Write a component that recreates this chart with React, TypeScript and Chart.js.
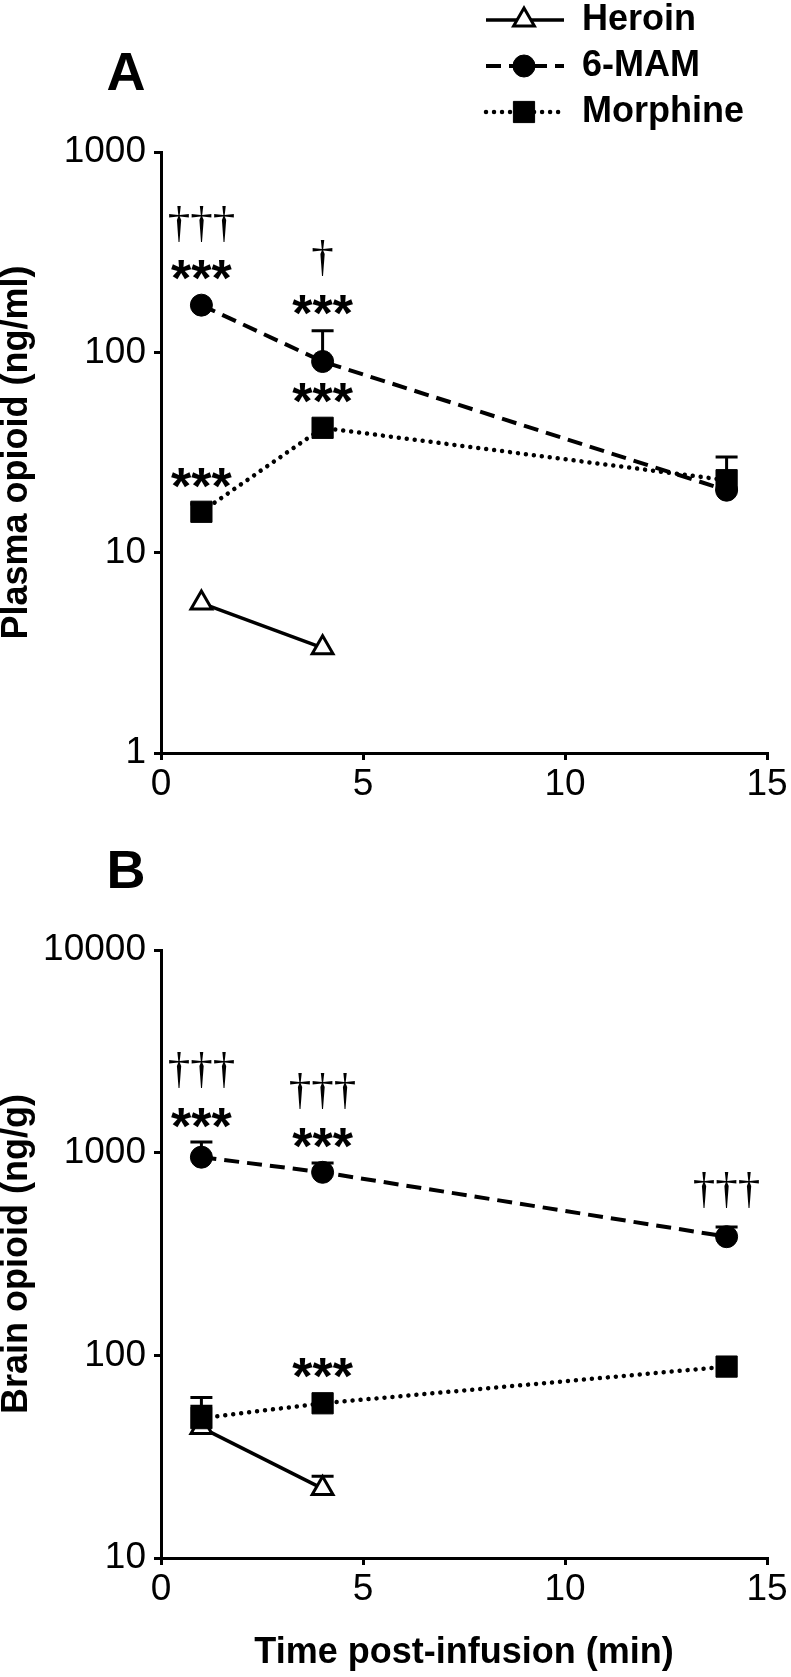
import React, { useEffect, useRef } from "react";
import { Chart, registerables } from "chart.js";

Chart.register(...registerables);

const FONT = "'Liberation Sans', Arial, Helvetica, sans-serif";
const SERIF = "'Liberation Serif', 'Times New Roman', serif";

// ---------- data ----------
const timeAll = [1, 4, 14];
const timeHeroin = [1, 4];
const xTicks = [0, 5, 10, 15];
const yTicksPlasma = [1, 10, 100, 1000];
const yTicksBrain = [10, 100, 1000, 10000];
const seriesNames = ["Heroin", "6-MAM", "Morphine"];

const plasmaHeroin = [5.6, 3.35];
const plasmaHeroinSem = [0, 0];
const plasma6MAM = [172, 90, 20.5];
const plasma6MAMSem = [0, 38, 0];
const plasmaMorphine = [16, 42, 23];
const plasmaMorphineSem = [1.5, 0, 7];

const brainHeroin = [44, 22];
const brainHeroinSem = [12, 3.3];
const brain6MAM = [950, 800, 385];
const brain6MAMSem = [180, 90, 45];
const brainMorphine = [49, 58, 88];
const brainMorphineSem = [13, 0, 0];

// significance marks: [x, y value]
const plasmaStars = [[1, 258], [4, 172], [4, 63], [1, 23.6]];
const plasmaDaggers: [number, number, string][] = [[1, 437, "†††"], [4, 296, "†"]];
const brainStars = [[1, 1483], [4, 1183], [4, 86.7]];
const brainDaggers: [number, number, string][] = [[1, 2559, "†††"], [4, 2014, "†††"], [14, 655, "†††"]];

// ---------- styles ----------
const styles = [
  { borderWidth: 3.5, borderDash: [] as number[], cap: "butt", pointStyle: "triangle", pointRadius: 12, fill: "#ffffff", pbw: 3, order: 2 },
  { borderWidth: 4, borderDash: [15, 8], cap: "butt", pointStyle: "circle", pointRadius: 11, fill: "#000000", pbw: 1, order: 1 },
  { borderWidth: 4.5, borderDash: [0.01, 8], cap: "round", pointStyle: "rect", pointRadius: 15, fill: "#000000", pbw: 1, order: 0 },
];

function makeDataset(i: number, xs: number[], ys: number[]) {
  const s = styles[i];
  return {
    label: seriesNames[i],
    data: xs.map((x, k) => ({ x, y: ys[k] })),
    borderColor: "#000",
    backgroundColor: s.fill,
    borderWidth: s.borderWidth,
    borderDash: s.borderDash,
    borderCapStyle: s.cap,
    pointStyle: s.pointStyle,
    pointRadius: s.pointRadius,
    pointHoverRadius: s.pointRadius,
    pointBackgroundColor: s.fill,
    pointBorderColor: "#000",
    pointBorderWidth: s.pbw,
    tension: 0,
    fill: false,
    order: s.order,
  };
}

function drawCentered(ctx: CanvasRenderingContext2D, text: string, x: number, y: number, font: string) {
  ctx.font = font;
  const m = ctx.measureText(text);
  ctx.textAlign = "center";
  ctx.textBaseline = "alphabetic";
  const base = y + (m.actualBoundingBoxAscent - m.actualBoundingBoxDescent) / 2;
  ctx.fillText(text, x, base);
}

function drawMarker(ctx: CanvasRenderingContext2D, i: number, x: number, y: number) {
  const s = styles[i];
  const r = s.pointRadius;
  ctx.save();
  ctx.setLineDash([]);
  ctx.lineWidth = s.pbw;
  ctx.strokeStyle = "#000";
  ctx.fillStyle = s.fill;
  ctx.beginPath();
  if (s.pointStyle === "triangle") {
    ctx.moveTo(x, y - r);
    ctx.lineTo(x + r * Math.sin(Math.PI / 3), y + r / 2);
    ctx.lineTo(x - r * Math.sin(Math.PI / 3), y + r / 2);
    ctx.closePath();
  } else if (s.pointStyle === "circle") {
    ctx.arc(x, y, r, 0, Math.PI * 2);
  } else {
    const h = r / Math.SQRT2;
    ctx.rect(x - h, y - h, 2 * h, 2 * h);
  }
  ctx.fill();
  ctx.stroke();
  ctx.restore();
}

type PanelCfg = {
  letter: string;
  letterY: number;
  legend: boolean;
  stars: number[][];
  daggers: [number, number, string][];
  errors: { xs: number[]; ys: number[]; sem: number[] }[];
};

function makePlugin(cfg: PanelCfg) {
  return {
    id: "panelExtras" + cfg.letter,
    beforeDatasetsDraw(chart: any) {
      const ctx = chart.ctx as CanvasRenderingContext2D;
      const xs = chart.scales.x;
      const ys = chart.scales.y;
      ctx.save();
      ctx.strokeStyle = "#000";
      ctx.lineWidth = 3;
      ctx.setLineDash([]);
      cfg.errors.forEach((e) => {
        e.xs.forEach((xv, k) => {
          if (!e.sem[k]) return;
          const px = xs.getPixelForValue(xv);
          const py0 = ys.getPixelForValue(e.ys[k]);
          const py1 = ys.getPixelForValue(e.ys[k] + e.sem[k]);
          ctx.beginPath();
          ctx.moveTo(px, py0);
          ctx.lineTo(px, py1);
          ctx.moveTo(px - 11, py1);
          ctx.lineTo(px + 11, py1);
          ctx.stroke();
        });
      });
      ctx.restore();
    },
    afterDraw(chart: any) {
      const ctx = chart.ctx as CanvasRenderingContext2D;
      const xs = chart.scales.x;
      const ys = chart.scales.y;
      ctx.save();
      ctx.fillStyle = "#000";
      cfg.stars.forEach(([xv, yv]) => {
        drawCentered(ctx, "***", xs.getPixelForValue(xv), ys.getPixelForValue(yv), `bold 52px ${FONT}`);
      });
      cfg.daggers.forEach(([xv, yv, t]) => {
        drawCentered(ctx, t, xs.getPixelForValue(xv), ys.getPixelForValue(yv), `45px ${SERIF}`);
      });
      // panel letter
      ctx.font = `bold 54px ${FONT}`;
      ctx.textAlign = "center";
      ctx.textBaseline = "alphabetic";
      ctx.fillText(cfg.letter, 126, cfg.letterY);
      if (cfg.legend) {
        const rows = [20, 66, 112];
        rows.forEach((ry, i) => {
          const s = styles[i];
          ctx.save();
          ctx.strokeStyle = "#000";
          ctx.lineWidth = s.borderWidth;
          ctx.lineCap = s.cap as CanvasLineCap;
          ctx.setLineDash(s.borderDash);
          ctx.beginPath();
          ctx.moveTo(486, ry);
          ctx.lineTo(564, ry);
          ctx.stroke();
          ctx.restore();
          drawMarker(ctx, i, 524, ry);
          ctx.fillStyle = "#000";
          ctx.font = `bold 36px ${FONT}`;
          ctx.textAlign = "left";
          ctx.textBaseline = "middle";
          ctx.fillText(seriesNames[i], 582, ry);
        });
      }
      ctx.restore();
    },
  };
}

function makeConfig(opts: {
  datasets: any[];
  yMin: number;
  yMax: number;
  yTicks: number[];
  yTitle: string;
  xTitle: string | null;
  padTop: number;
  xHeight: number;
  plugin: any;
}) {
  const tickFont = { family: FONT, size: 37, weight: "normal" as const, lineHeight: 1.2 };
  const titleFont = { family: FONT, size: 36, weight: "bold" as const, lineHeight: 1.2 };
  return {
    type: "line" as const,
    data: { datasets: opts.datasets },
    plugins: [opts.plugin],
    options: {
      animation: false as const,
      responsive: false,
      devicePixelRatio: 1,
      events: [] as any[],
      layout: { padding: { top: opts.padTop, right: 24, left: 0, bottom: 0 } },
      plugins: { legend: { display: false }, tooltip: { enabled: false }, title: { display: false } },
      scales: {
        x: {
          type: "linear" as const,
          min: 0,
          max: 15,
          afterBuildTicks: (s: any) => {
            s.ticks = xTicks.map((v) => ({ value: v }));
          },
          afterFit: (s: any) => {
            s.height = opts.xHeight;
          },
          ticks: { color: "#000", font: tickFont, padding: 3, maxRotation: 0, autoSkip: false, callback: (v: any) => String(v) },
          grid: { drawOnChartArea: false, drawTicks: true, tickLength: 7, color: "#000", lineWidth: 3 },
          border: { display: true, color: "#000", width: 3 },
          title: opts.xTitle
            ? { display: true, text: opts.xTitle, color: "#000", font: titleFont, padding: { top: 0, bottom: 2.4 } }
            : { display: false },
        },
        y: {
          type: "logarithmic" as const,
          min: opts.yMin,
          max: opts.yMax,
          afterBuildTicks: (s: any) => {
            s.ticks = opts.yTicks.map((v) => ({ value: v }));
          },
          afterFit: (s: any) => {
            s.width = 161;
          },
          ticks: { color: "#000", font: tickFont, padding: 8, autoSkip: false, callback: (v: any) => String(v) },
          grid: { drawOnChartArea: false, drawTicks: true, tickLength: 7, color: "#000", lineWidth: 3 },
          border: { display: true, color: "#000", width: 3 },
          title: { display: true, text: opts.yTitle, color: "#000", font: titleFont, padding: { top: -5, bottom: 0 } },
        },
      },
    },
  };
}

export default function App() {
  const refA = useRef<HTMLCanvasElement>(null);
  const refB = useRef<HTMLCanvasElement>(null);

  useEffect(() => {
    const chartA = new Chart(
      refA.current as HTMLCanvasElement,
      makeConfig({
        datasets: [
          makeDataset(0, timeHeroin, plasmaHeroin),
          makeDataset(1, timeAll, plasma6MAM),
          makeDataset(2, timeAll, plasmaMorphine),
        ],
        yMin: 1,
        yMax: 1000,
        yTicks: yTicksPlasma,
        yTitle: "Plasma opioid (ng/ml)",
        xTitle: null,
        padTop: 152,
        xHeight: 67,
        plugin: makePlugin({
          letter: "A",
          letterY: 90,
          legend: true,
          stars: plasmaStars,
          daggers: plasmaDaggers,
          errors: [
            { xs: timeHeroin, ys: plasmaHeroin, sem: plasmaHeroinSem },
            { xs: timeAll, ys: plasma6MAM, sem: plasma6MAMSem },
            { xs: timeAll, ys: plasmaMorphine, sem: plasmaMorphineSem },
          ],
        }),
      }) as any
    );
    const chartB = new Chart(
      refB.current as HTMLCanvasElement,
      makeConfig({
        datasets: [
          makeDataset(0, timeHeroin, brainHeroin),
          makeDataset(1, timeAll, brain6MAM),
          makeDataset(2, timeAll, brainMorphine),
        ],
        yMin: 10,
        yMax: 10000,
        yTicks: yTicksBrain,
        yTitle: "Brain opioid (ng/g)",
        xTitle: "Time post-infusion (min)",
        padTop: 130,
        xHeight: 119,
        plugin: makePlugin({
          letter: "B",
          letterY: 68,
          legend: false,
          stars: brainStars,
          daggers: brainDaggers,
          errors: [
            { xs: timeHeroin, ys: brainHeroin, sem: brainHeroinSem },
            { xs: timeAll, ys: brain6MAM, sem: brain6MAMSem },
            { xs: timeAll, ys: brainMorphine, sem: brainMorphineSem },
          ],
        }),
      }) as any
    );
    return () => {
      chartA.destroy();
      chartB.destroy();
    };
  }, []);

  return (
    <div style={{ position: "absolute", left: 0, top: 0, width: 791, height: 1677, background: "#fff" }}>
      <canvas ref={refA} width={791} height={820} style={{ display: "block", width: 791, height: 820 }} />
      <canvas ref={refB} width={791} height={857} style={{ display: "block", width: 791, height: 857 }} />
    </div>
  );
}
